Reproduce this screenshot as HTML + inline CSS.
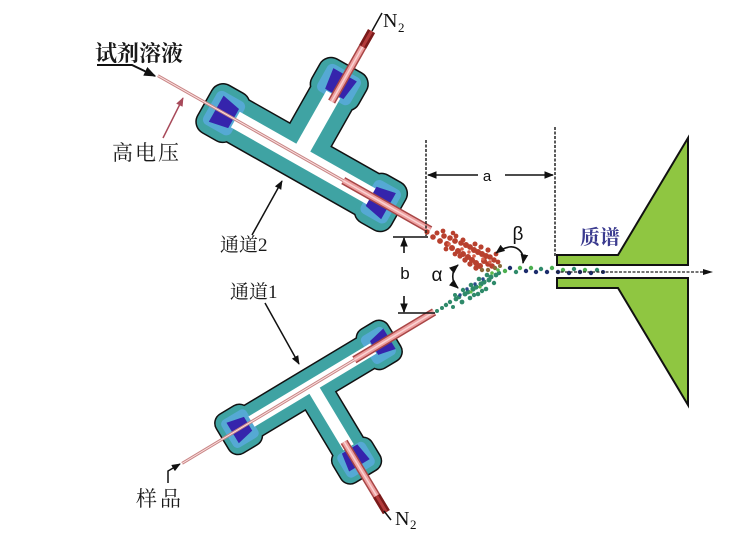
<!DOCTYPE html>
<html><head><meta charset="utf-8"><style>
html,body{margin:0;padding:0;background:#fff;width:756px;height:536px;overflow:hidden;position:relative;}
svg{display:block;overflow:hidden;position:absolute;left:0;top:0;}
.cn{font-family:"Liberation Serif","Noto Serif CJK SC",serif;fill:#1a1a1a;}
.lat{font-family:"Liberation Serif",serif;fill:#111;}
.sans{font-family:"Liberation Sans",sans-serif;fill:#111;}
</style></head><body><svg width="756" height="536" viewBox="0 0 756 536" xmlns="http://www.w3.org/2000/svg">
<defs>
<marker id="ah" viewBox="0 0 10 10" refX="9" refY="5" markerWidth="6" markerHeight="6" orient="auto-start-reverse"><path d="M0,1 L10,5 L0,9 z" fill="#111"/></marker>
<marker id="ahr" viewBox="0 0 10 10" refX="9" refY="5" markerWidth="6" markerHeight="6" orient="auto-start-reverse"><path d="M0,1 L10,5 L0,9 z" fill="#a84a5a"/></marker>
</defs>
<rect width="756" height="536" fill="#fff"/>

<!-- Upper device (通道2) -->
<g transform="translate(298,155) rotate(29.5)">
  <g fill="#3fa3a3" stroke="#111" stroke-width="3" stroke-linejoin="round">
    <rect x="-85" y="-23" width="185" height="46"/>
    <rect x="-22" y="-80" width="46" height="80"/>
    <rect x="-106" y="-26" width="40" height="53" rx="12"/>
    <rect x="76" y="-26" width="39" height="53" rx="12"/>
    <rect x="-25" y="-102" width="52" height="40" rx="12"/>
  </g>
  <g fill="#3fa3a3">
    <rect x="-85" y="-23" width="185" height="46"/>
    <rect x="-22" y="-80" width="46" height="80"/>
    <rect x="-106" y="-26" width="40" height="53" rx="12"/>
    <rect x="76" y="-26" width="39" height="53" rx="12"/>
    <rect x="-25" y="-102" width="52" height="40" rx="12"/>
  </g>
  <g fill="#55a9d4">
    <rect x="-101" y="-19" width="32" height="38" rx="6"/>
    <rect x="80" y="-19" width="30" height="38" rx="6"/>
    <rect x="-18" y="-97" width="38" height="31" rx="6"/>
  </g>
  <g fill="#fff">
    <rect x="-72" y="-9" width="156" height="18"/>
    <rect x="-7" y="-70" width="16" height="72"/>
  </g>
  <g fill="#3524ac">
    <polygon points="-94,-15 -74,-11 -74,11 -94,15"/>
    <polygon points="84,-11 104,-15 104,15 84,11"/>
    <polygon points="-12,-93 15,-93 12,-71 -9,-71"/>
  </g>
  <line x1="-161" y1="0" x2="152" y2="0" stroke="#c98585" stroke-width="3"/>
  <line x1="-161" y1="0" x2="152" y2="0" stroke="#fbe2e2" stroke-width="1"/>
  <line x1="52" y1="0" x2="152" y2="0" stroke="#a84646" stroke-width="8"/>
  <line x1="52" y1="0" x2="152" y2="0" stroke="#ee9f9f" stroke-width="5"/>
  <line x1="52" y1="0" x2="152" y2="0" stroke="#f9d3d3" stroke-width="1.5"/>
  <line x1="3" y1="-63" x2="3" y2="-144" stroke="#a84646" stroke-width="8"/>
  <line x1="3" y1="-63" x2="3" y2="-144" stroke="#ee9f9f" stroke-width="5"/>
  <line x1="3" y1="-63" x2="3" y2="-144" stroke="#f9d3d3" stroke-width="1.5"/>
  <line x1="3" y1="-126" x2="3" y2="-144" stroke="#7a1a1a" stroke-width="8"/>
  <line x1="3" y1="-126" x2="3" y2="-144" stroke="#b33a3a" stroke-width="3"/>
</g>

<!-- Lower device (通道1) -->
<g transform="translate(311.5,385.6) rotate(-31)">
  <g fill="#3fa3a3" stroke="#111" stroke-width="3" stroke-linejoin="round">
    <rect x="-80" y="-17" width="158" height="34"/>
    <rect x="-17" y="0" width="34" height="78"/>
    <rect x="-103" y="-22" width="36" height="44" rx="10"/>
    <rect x="62" y="-22" width="34" height="44" rx="10"/>
    <rect x="-22" y="70" width="44" height="35" rx="10"/>
  </g>
  <g fill="#3fa3a3">
    <rect x="-80" y="-17" width="158" height="34"/>
    <rect x="-17" y="0" width="34" height="78"/>
    <rect x="-103" y="-22" width="36" height="44" rx="10"/>
    <rect x="62" y="-22" width="34" height="44" rx="10"/>
    <rect x="-22" y="70" width="44" height="35" rx="10"/>
  </g>
  <g fill="#55a9d4">
    <rect x="-98" y="-16" width="29" height="32" rx="5"/>
    <rect x="65" y="-16" width="26" height="32" rx="5"/>
    <rect x="-16" y="73" width="32" height="27" rx="5"/>
  </g>
  <g fill="#fff">
    <rect x="-70" y="-6" width="142" height="12"/>
    <rect x="-6" y="0" width="12" height="72"/>
  </g>
  <g fill="#3524ac">
    <polygon points="-92,-12 -74,-8 -74,8 -92,12"/>
    <polygon points="73,-8 91,-12 91,12 73,8"/>
    <polygon points="-12,93 12,93 9,74 -9,74"/>
  </g>
  <line x1="-151" y1="0" x2="142" y2="0" stroke="#c98585" stroke-width="3"/>
  <line x1="-151" y1="0" x2="142" y2="0" stroke="#fbe2e2" stroke-width="1"/>
  <line x1="50" y1="0" x2="143" y2="0" stroke="#a84646" stroke-width="8"/>
  <line x1="50" y1="0" x2="143" y2="0" stroke="#ee9f9f" stroke-width="5"/>
  <line x1="50" y1="0" x2="143" y2="0" stroke="#f9d3d3" stroke-width="1.5"/>
  <line x1="-1" y1="65" x2="-1" y2="147" stroke="#a84646" stroke-width="8"/>
  <line x1="-1" y1="65" x2="-1" y2="147" stroke="#ee9f9f" stroke-width="5"/>
  <line x1="-1" y1="65" x2="-1" y2="147" stroke="#f9d3d3" stroke-width="1.5"/>
  <line x1="-1" y1="128" x2="-1" y2="147" stroke="#7a1a1a" stroke-width="8"/>
  <line x1="-1" y1="128" x2="-1" y2="147" stroke="#b33a3a" stroke-width="3"/>
</g>

<!-- Spray: red -->
<g fill="#b8402e">
<circle cx="427" cy="232" r="2.6"/><circle cx="433" cy="237" r="2.8"/><circle cx="437" cy="233" r="2.5"/>
<circle cx="440" cy="241" r="2.9"/><circle cx="444" cy="236" r="2.8"/><circle cx="447" cy="244" r="3"/>
<circle cx="450" cy="238" r="2.8"/><circle cx="452" cy="248" r="3"/><circle cx="455" cy="241" r="2.9"/>
<circle cx="458" cy="251" r="3"/><circle cx="461" cy="243" r="2.8"/><circle cx="463" cy="254" r="3"/>
<circle cx="466" cy="245" r="3"/><circle cx="468" cy="257" r="3"/><circle cx="470" cy="247" r="2.9"/>
<circle cx="472" cy="260" r="3"/><circle cx="474" cy="250" r="3"/><circle cx="476" cy="263" r="3"/>
<circle cx="478" cy="252" r="3"/><circle cx="480" cy="266" r="3"/><circle cx="482" cy="254" r="3"/>
<circle cx="484" cy="261" r="3"/><circle cx="486" cy="256" r="3"/><circle cx="488" cy="264" r="2.8"/>
<circle cx="490" cy="257" r="2.8"/><circle cx="492" cy="266" r="2.8"/><circle cx="494" cy="260" r="2.7"/>
<circle cx="470" cy="264" r="2.7"/><circle cx="476" cy="268" r="2.7"/><circle cx="465" cy="260" r="2.7"/>
<circle cx="460" cy="256" r="2.6"/><circle cx="488" cy="250" r="2.6"/><circle cx="481" cy="247" r="2.6"/>
<circle cx="456" cy="236" r="2.4"/><circle cx="443" cy="231" r="2.4"/><circle cx="498" cy="262" r="2.4"/>
<circle cx="463" cy="240" r="2.5"/><circle cx="475" cy="244" r="2.5"/><circle cx="453" cy="233" r="2.3"/>
<circle cx="446" cy="249" r="2.4"/><circle cx="455" cy="254" r="2.4"/><circle cx="496" cy="254" r="2.4"/>
</g>
<g fill="#d8604a">
<circle cx="449" cy="244" r="1.8"/><circle cx="462" cy="249" r="1.8"/><circle cx="474" cy="256" r="1.8"/>
<circle cx="483" cy="259" r="1.8"/><circle cx="469" cy="252" r="1.7"/><circle cx="490" cy="262" r="1.7"/>
</g>
<g fill="#8a6a3a">
<circle cx="482" cy="270" r="2.2"/><circle cx="488" cy="270" r="2.2"/><circle cx="495" cy="268" r="2.2"/><circle cx="500" cy="266" r="2"/>
</g>
<!-- Spray: green/teal -->
<g fill="#2f8a6a">
<circle cx="437" cy="311" r="2"/><circle cx="442" cy="308" r="2"/><circle cx="446" cy="305" r="2.2"/>
<circle cx="450" cy="302" r="2.2"/><circle cx="453" cy="307" r="2"/><circle cx="456" cy="299" r="2.4"/>
<circle cx="459" cy="297" r="2.3"/><circle cx="462" cy="302" r="2.4"/><circle cx="465" cy="294" r="2.5"/>
<circle cx="468" cy="292" r="2.5"/><circle cx="470" cy="298" r="2.3"/><circle cx="473" cy="289" r="2.6"/>
<circle cx="476" cy="287" r="2.6"/><circle cx="478" cy="294" r="2.3"/><circle cx="481" cy="284" r="2.6"/>
<circle cx="484" cy="282" r="2.6"/><circle cx="486" cy="289" r="2.3"/><circle cx="489" cy="280" r="2.5"/>
<circle cx="491" cy="277" r="2.5"/><circle cx="494" cy="283" r="2.2"/><circle cx="496" cy="275" r="2.4"/>
<circle cx="499" cy="273" r="2.2"/><circle cx="471" cy="285" r="2.3"/><circle cx="479" cy="279" r="2.3"/>
<circle cx="487" cy="275" r="2.3"/><circle cx="463" cy="290" r="2.2"/><circle cx="455" cy="295" r="2"/>
<circle cx="474" cy="295" r="2.2"/><circle cx="482" cy="291" r="2.2"/>
</g>
<g fill="#2a4a8a">
<circle cx="467" cy="289" r="1.7"/><circle cx="475" cy="284" r="1.7"/><circle cx="483" cy="279" r="1.7"/><circle cx="460" cy="295" r="1.7"/>
</g>
<g fill="#5cb84a">
<circle cx="471" cy="292" r="1.6"/><circle cx="480" cy="287" r="1.6"/><circle cx="492" cy="273" r="1.8"/><circle cx="498" cy="270" r="1.8"/>
</g>
<!-- converging stream -->
<g>
<circle cx="505" cy="271" r="2.2" fill="#4caf50"/><circle cx="510" cy="268" r="2.2" fill="#1c2c6c"/>
<circle cx="516" cy="272" r="2.2" fill="#2f8a6a"/><circle cx="520" cy="268" r="2.2" fill="#4caf50"/>
<circle cx="526" cy="271" r="2.2" fill="#1c2c6c"/><circle cx="531" cy="268" r="2.2" fill="#4caf50"/>
<circle cx="536" cy="272" r="2.2" fill="#1c2c6c"/><circle cx="541" cy="269" r="2.2" fill="#2f8a6a"/>
<circle cx="547" cy="272" r="2.2" fill="#1c2c6c"/><circle cx="552" cy="268" r="2.2" fill="#4caf50"/>
<circle cx="558" cy="272" r="2.2" fill="#1c2c6c"/><circle cx="563" cy="270" r="2.2" fill="#4caf50"/>
<circle cx="569" cy="273" r="2.2" fill="#1c2c6c"/><circle cx="574" cy="269" r="2.2" fill="#2f8a6a"/>
<circle cx="580" cy="272" r="2.2" fill="#1c2c6c"/><circle cx="585" cy="270" r="2.2" fill="#4caf50"/>
<circle cx="591" cy="273" r="2.2" fill="#1c2c6c"/><circle cx="597" cy="270" r="2.2" fill="#2f8a6a"/>
<circle cx="603" cy="272" r="2" fill="#1c2c6c"/>
</g>

<!-- Mass spec -->
<g fill="#8fc641" stroke="#111" stroke-width="2" stroke-linejoin="miter">
  <polygon points="557,255 618,255 688,138 688,265 557,265"/>
  <polygon points="557,278 688,278 688,405 618,288 557,288"/>
</g>
<line x1="556" y1="272" x2="708" y2="272" stroke="#222" stroke-width="1.3" stroke-dasharray="3 1.5"/>
<path d="M703,269 L713,272 L703,275 z" fill="#111"/>

<!-- Dimension lines -->
<g stroke="#222" stroke-width="1.5" stroke-dasharray="3 1.5" fill="none">
  <line x1="426" y1="140" x2="426" y2="236"/>
  <line x1="555" y1="127" x2="555" y2="257"/>
</g>
<g stroke="#111" stroke-width="1.6" fill="none">
  <line x1="478" y1="175" x2="428" y2="175" marker-end="url(#ah)"/>
  <line x1="505" y1="175" x2="553" y2="175" marker-end="url(#ah)"/>
  <line x1="393" y1="237" x2="428" y2="237"/>
  <line x1="398" y1="313" x2="435" y2="313"/>
  <line x1="404" y1="253" x2="404" y2="238" marker-end="url(#ah)"/>
  <line x1="404" y1="296" x2="404" y2="312" marker-end="url(#ah)"/>
  <path d="M458,265 C451,271 451,282 458,288" marker-start="url(#ah)" marker-end="url(#ah)"/>
  <path d="M523,263 C525,251 516,246 509,247 C504,248 500,250 496,253" marker-start="url(#ah)" marker-end="url(#ah)"/>
</g>
<text x="487" y="181" class="sans" font-size="15" text-anchor="middle">a</text>
<text x="405" y="279" class="sans" font-size="17" text-anchor="middle">b</text>
<text x="437" y="281" class="sans" font-size="19" text-anchor="middle">α</text>
<text x="518" y="240" class="sans" font-size="19" text-anchor="middle">β</text>

<!-- Labels -->
<text x="95" y="61" class="cn" font-size="22" font-weight="bold">试剂溶液</text>
<path d="M97,65 L132,65 L155,76" stroke="#111" stroke-width="2" fill="none" marker-end="url(#ah)"/>
<text x="112" y="160" class="cn" font-size="21" letter-spacing="2">高电压</text>
<line x1="163" y1="138" x2="183" y2="98" stroke="#a84a5a" stroke-width="1.5" marker-end="url(#ahr)"/>
<text x="383" y="27" class="lat" font-size="20">N</text>
<text x="398" y="32" class="lat" font-size="13">2</text>
<line x1="382" y1="13" x2="372" y2="31" stroke="#111" stroke-width="1.5"/>
<text x="220" y="251" class="cn" font-size="19">通道2</text>
<line x1="252" y1="235" x2="282" y2="181" stroke="#111" stroke-width="1.5" marker-end="url(#ah)"/>
<text x="230" y="298" class="cn" font-size="19">通道1</text>
<line x1="265" y1="303" x2="299" y2="364" stroke="#111" stroke-width="1.5" marker-end="url(#ah)"/>
<text x="136" y="506" class="cn" font-size="21" letter-spacing="3">样品</text>
<path d="M168,483 L168,471 L180,464" stroke="#111" stroke-width="1.5" fill="none" marker-end="url(#ah)"/>
<text x="395" y="525" class="lat" font-size="20">N</text>
<text x="410" y="529" class="lat" font-size="13">2</text>
<line x1="384" y1="511" x2="391" y2="520" stroke="#111" stroke-width="1.5"/>
<text x="580" y="244" class="cn" font-size="20" font-weight="bold" style="fill:#3b3b8f">质谱</text>
</svg></body></html>
